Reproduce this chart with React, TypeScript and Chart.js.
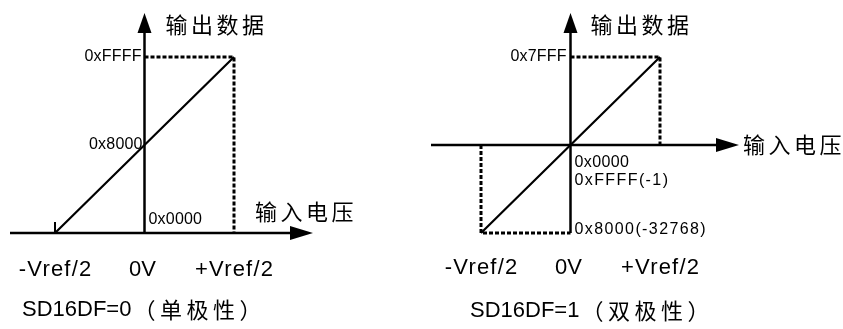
import React, { useEffect, useRef } from 'react';
import { Chart, registerables } from 'chart.js';

Chart.register(...registerables);

// ---- data ----
const inputLevels = [-1, 0, 1];
const inputLabels = ['-Vref/2', '0V', '+Vref/2'];
const unipolarCodes = [0x0000, 0x8000, 0xffff];
const unipolarCodeLabels = ['0x0000', '0x8000', '0xFFFF'];
const bipolarCodes = [-32768, 0, 32767];
const bipolarCodeLabels = ['0x8000(-32768)', '0x0000', '0x7FFF'];
const bipolarMinusOneLabel = '0xFFFF(-1)';
const outputAxisTitle = '输出数据';
const inputAxisTitle = '输入电压';
const unipolarCaption = ['SD16DF=0', '（单极性）'];
const bipolarCaption = ['SD16DF=1', '（双极性）'];

const W = 843;
const H = 329;
const LATIN = '"Liberation Sans", Arial, "Noto Sans CJK SC", sans-serif';
const CJK = '"Noto Sans CJK SC", "Noto Sans CJK JP", sans-serif';

type PanelDef = {
  left: number;
  width: number;
  bipolar: boolean;
};

const X_ANCHOR = 55; // pixel of -Vref/2 inside each canvas
const X_UNIT = 89.5; // px per unit input
const Y_TOP_PX = 57;
const Y_BOTTOM_PX = 233;

function makeConfig(def: PanelDef): any {
  const codes = def.bipolar ? bipolarCodes : unipolarCodes;
  const lo = codes[0];
  const hi = codes[2];
  const zeroLevel = def.bipolar ? codes[1] : codes[0];
  const perPx = (hi - lo) / (Y_BOTTOM_PX - Y_TOP_PX);
  const yMax = hi + Y_TOP_PX * perPx;
  const yMin = lo - (H - Y_BOTTOM_PX) * perPx;
  const xMin = inputLevels[0] - X_ANCHOR / X_UNIT;
  const xMax = xMin + def.width / X_UNIT;

  const transfer = inputLevels.map((v, i) => ({ x: v, y: codes[i] }));
  const guides: any[] = [
    {
      data: [
        { x: inputLevels[1], y: hi },
        { x: inputLevels[2], y: hi },
        { x: inputLevels[2], y: zeroLevel },
      ],
    },
  ];
  if (def.bipolar) {
    guides.push({
      data: [
        { x: inputLevels[0], y: zeroLevel },
        { x: inputLevels[0], y: lo },
        { x: inputLevels[1], y: lo },
      ],
    });
  }

  const datasets: any[] = [
    ...guides.map((g) => ({
      data: g.data,
      showLine: true,
      borderColor: '#000',
      borderWidth: 3,
      borderDash: [4, 2],
      borderCapStyle: 'butt',
      pointRadius: 0,
      fill: false,
      tension: 0,
    })),
    {
      data: transfer,
      showLine: true,
      borderColor: '#000',
      borderWidth: 2.2,
      pointRadius: 0,
      fill: false,
      tension: 0,
    },
  ];

  const axesPlugin = {
    id: 'axesPlugin' + (def.bipolar ? 'B' : 'U'),
    beforeDatasetsDraw(chart: any) {
      const ctx = chart.ctx;
      const xs = chart.scales.x;
      const ys = chart.scales.y;
      const x0 = xs.getPixelForValue(inputLevels[1]);
      const xL = xs.getPixelForValue(inputLevels[0]);
      const xR = xs.getPixelForValue(inputLevels[2]);
      const yZ = ys.getPixelForValue(zeroLevel);
      const yTop = ys.getPixelForValue(hi);
      const yBot = ys.getPixelForValue(lo);
      ctx.save();
      ctx.strokeStyle = '#000';
      ctx.fillStyle = '#000';
      ctx.lineWidth = 2.5;
      // horizontal axis
      const hStart = xL - (def.bipolar ? 50 : 45);
      const hBase = xR + 56;
      const hTip = xR + 79;
      ctx.beginPath();
      ctx.moveTo(hStart, yZ);
      ctx.lineTo(hBase + 2, yZ);
      ctx.stroke();
      ctx.beginPath();
      ctx.moveTo(hBase, yZ - 7);
      ctx.lineTo(hTip, yZ);
      ctx.lineTo(hBase, yZ + 7);
      ctx.closePath();
      ctx.fill();
      // vertical axis
      const vBase = yTop - 24;
      const vTip = yTop - 44;
      ctx.beginPath();
      ctx.moveTo(x0, yBot);
      ctx.lineTo(x0, vBase - 2);
      ctx.stroke();
      ctx.beginPath();
      ctx.moveTo(x0 - 7, vBase);
      ctx.lineTo(x0, vTip);
      ctx.lineTo(x0 + 7, vBase);
      ctx.closePath();
      ctx.fill();
      if (!def.bipolar) {
        ctx.lineWidth = 2;
        ctx.beginPath();
        ctx.moveTo(xL, yZ);
        ctx.lineTo(xL, yZ - 11);
        ctx.stroke();
      }
      ctx.restore();
    },
    afterDatasetsDraw(chart: any) {
      const ctx = chart.ctx;
      const xs = chart.scales.x;
      const ys = chart.scales.y;
      const x0 = xs.getPixelForValue(inputLevels[1]);
      const xR = xs.getPixelForValue(inputLevels[2]);
      const yZ = ys.getPixelForValue(zeroLevel);
      const yTop = ys.getPixelForValue(hi);
      const yBot = ys.getPixelForValue(lo);
      const text = (s: string, x: number, y: number, font: string, align: string, spacing: number) => {
        ctx.save();
        ctx.font = font;
        ctx.fillStyle = '#000';
        ctx.textBaseline = 'middle';
        (ctx as any).letterSpacing = spacing + 'px';
        const w = ctx.measureText(s).width;
        let tx = x;
        if (align !== 'left') {
          const ww = w - spacing;
          tx = align === 'right' ? x - ww : x - ww / 2;
        }
        ctx.textAlign = 'left';
        ctx.fillText(s, tx, y);
        ctx.restore();
        return tx + w;
      };
      const codeFont = '16px ' + LATIN;
      // code labels
      if (!def.bipolar) {
        text(unipolarCodeLabels[2], x0 - 3, yTop, codeFont, 'right', 0.2);
        text(unipolarCodeLabels[1], x0 - 2, ys.getPixelForValue(codes[1]), codeFont, 'right', 0.2);
        text(unipolarCodeLabels[0], x0 + 4, yZ - 13, codeFont, 'left', 0.2);
      } else {
        text(bipolarCodeLabels[2], x0 - 4, yTop, codeFont, 'right', 0.2);
        text(bipolarCodeLabels[1], x0 + 4, yZ + 18, codeFont, 'left', 0.4);
        text(bipolarMinusOneLabel, x0 + 4, yZ + 36, codeFont, 'left', 1.4);
        text(bipolarCodeLabels[0], x0 + 4, yBot - 3, codeFont, 'left', 1.4);
      }
      // axis titles
      const titleFont = '22px ' + CJK;
      text(outputAxisTitle, x0 + (def.bipolar ? 20 : 21), 25, titleFont, 'left', 3.5);
      if (!def.bipolar) {
        text(inputAxisTitle, xR + 21, yZ - 21, titleFont, 'left', 3.5);
      } else {
        text(inputAxisTitle, xR + 83, yZ, titleFont, 'left', 3.5);
      }
      // input level labels
      const lvlFont = '22px ' + LATIN;
      const lvlY = def.bipolar ? 268 : 270;
      inputLevels.forEach((v, i) => {
        const px = xs.getPixelForValue(v) + (i === 1 ? -2 : 0);
        text(inputLabels[i], px, lvlY, lvlFont, 'center', i === 1 ? 0 : 1.2);
      });
      // caption
      const cap = def.bipolar ? bipolarCaption : unipolarCaption;
      const capX = def.bipolar ? 44 : 22;
      const capY = def.bipolar ? 311 : 310;
      const end = text(cap[0], capX, capY, '22px ' + LATIN, 'left', 0);
      text(cap[1], end + 2, capY, '22px ' + CJK, 'left', 4.5);
    },
  };

  return {
    type: 'scatter',
    data: { datasets },
    options: {
      animation: false,
      responsive: false,
      maintainAspectRatio: false,
      layout: { padding: 0 },
      plugins: { legend: { display: false }, tooltip: { enabled: false }, title: { display: false } },
      events: [],
      scales: {
        x: { type: 'linear', min: xMin, max: xMax, display: false },
        y: { type: 'linear', min: yMin, max: yMax, display: false },
      },
    },
    plugins: [axesPlugin],
  };
}

function Panel({ def }: { def: PanelDef }) {
  const ref = useRef<HTMLCanvasElement | null>(null);
  useEffect(() => {
    if (!ref.current) return;
    const chart = new Chart(ref.current, makeConfig(def));
    return () => chart.destroy();
  }, [def]);
  return (
    <canvas
      ref={ref}
      width={def.width}
      height={H}
      style={{ position: 'absolute', left: def.left, top: 0, width: def.width, height: H }}
    />
  );
}

const leftDef: PanelDef = { left: 0, width: 420, bipolar: false };
const rightDef: PanelDef = { left: 426, width: 417, bipolar: true };

export default function App() {
  useEffect(() => {
    document.body.style.margin = '0';
    document.body.style.background = '#fff';
  }, []);
  return (
    <div style={{ position: 'relative', width: W, height: H, overflow: 'hidden', background: '#fff' }}>
      <Panel def={leftDef} />
      <Panel def={rightDef} />
    </div>
  );
}
